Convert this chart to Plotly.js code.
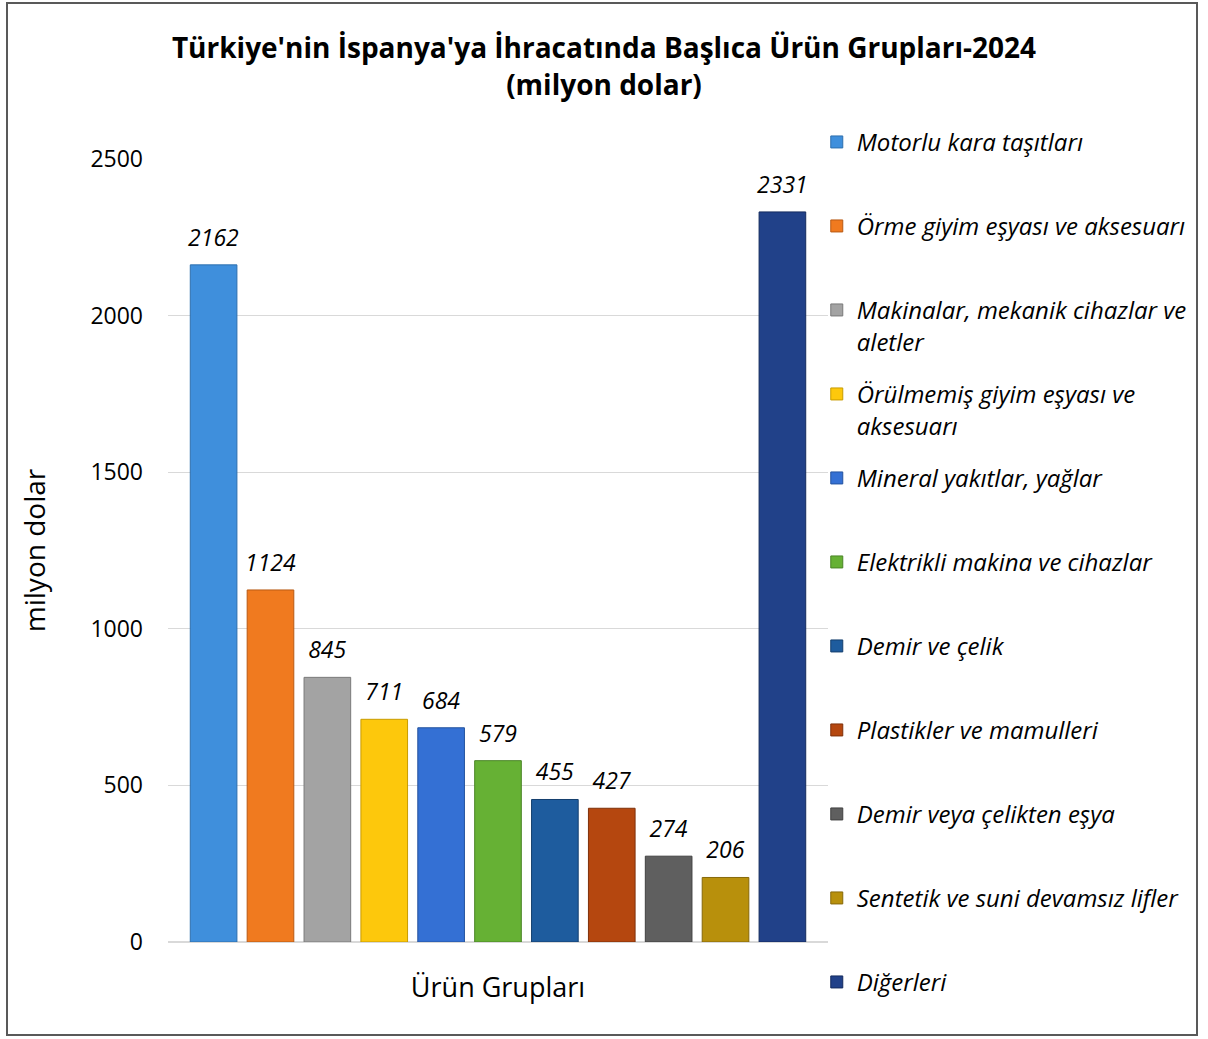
<!DOCTYPE html>
<html>
<head>
<meta charset="utf-8">
<script src="https://cdn.plot.ly/plotly-3.0.1.min.js"></script>
<style>
  html, body { margin: 0; padding: 0; background: #ffffff; }
  #wrap { position: relative; width: 1208px; height: 1039px; }
  #chart { position: absolute; left: 0; top: 0; width: 1208px; height: 1039px; }
  #frame { position: absolute; left: 6px; top: 2px; width: 1192px; height: 1034px;
           border: 2px solid #595959; box-sizing: border-box; pointer-events: none; }
</style>
</head>
<body>
<div id="wrap">
  <div id="chart"></div>
  <div id="frame"></div>
</div>
<script>
const category = ['Ürün Grupları'];
const seriesNames = [
  'Motorlu kara taşıtları',
  'Örme giyim eşyası ve aksesuarı',
  'Makinalar, mekanik cihazlar ve<br>aletler',
  'Örülmemiş giyim eşyası ve<br>aksesuarı',
  'Mineral yakıtlar, yağlar',
  'Elektrikli makina ve cihazlar',
  'Demir ve çelik',
  'Plastikler ve mamulleri',
  'Demir veya çelikten eşya',
  'Sentetik ve suni devamsız lifler',
  'Diğerleri'
];
const seriesValues = [2162, 1124, 845, 711, 684, 579, 455, 427, 274, 206, 2331];
const seriesColors = ['#3f8fdc', '#f07a1f', '#a3a3a3', '#fdc80c', '#3470d4', '#66b134',
                      '#1e5c9e', '#b5470f', '#5f5f5f', '#b8900c', '#214189'];
const seriesEdges  = ['#2e6fae', '#b85a14', '#7a7a7a', '#c89c00', '#24529f', '#4a8526',
                      '#143f6e', '#7f300a', '#404040', '#86680a', '#142b5e'];

const traces = seriesNames.map((name, i) => {
  const oneLine = name.indexOf('<br>') === -1;
  return {
    type: 'bar',
    name: oneLine ? name + '<br>\u00a0' : name,
    legendgroup: 'g' + i,
    x: category,
    y: [seriesValues[i]],
    text: ['<span style="font-size:23px">' + String(seriesValues[i]) + '</span><br>\u00a0'],
    textposition: 'outside',
    constraintext: 'none',
    cliponaxis: false,
    textfont: { family: 'Open Sans, sans-serif', size: 10, color: '#000000', style: 'italic' },
    marker: { color: seriesColors[i], line: { color: seriesEdges[i], width: 1 } },
    hoverinfo: 'skip'
  };
});

const layout = {
  width: 1208, height: 1039,
  paper_bgcolor: '#ffffff', plot_bgcolor: '#ffffff',
  margin: { l: 168, r: 380, t: 159, b: 97, pad: 0 },
  font: { family: 'Open Sans, sans-serif', color: '#000000' },
  title: {
    text: "<b>Türkiye'nin İspanya'ya İhracatında Başlıca Ürün Grupları-2024<br>(milyon dolar)</b>",
    font: { family: 'Open Sans, sans-serif', size: 28, color: '#000000' },
    x: 0.5, xanchor: 'center', xref: 'container',
    y: 0.944, yanchor: 'middle', yref: 'container'
  },
  barmode: 'group',
  bargap: 0.052,
  bargroupgap: 0.18,
  xaxis: {
    showticklabels: false,
    showgrid: false,
    zeroline: false,
    showline: false,
    ticks: '',
    title: { text: 'Ürün Grupları', font: { size: 27, color: '#000000' }, standoff: 36 }
  },
  yaxis: {
    range: [0, 2500],
    tickvals: [0, 500, 1000, 1500, 2000, 2500],
    ticktext: ['0', '500', '1000', '1500', '2000', '2500'],
    tickfont: { size: 23, color: '#000000' },
    showgrid: true,
    gridcolor: '#d9d9d9',
    gridwidth: 1.3,
    zeroline: true,
    zerolinecolor: '#d9d9d9',
    zerolinewidth: 1.3,
    showline: false,
    ticks: '',
    ticklabelstandoff: 24,
    title: { text: 'milyon dolar', font: { size: 28, color: '#000000' }, standoff: 36 }
  },
  showlegend: true,
  legend: {
    x: 0.983, xanchor: 'left',
    y: 1.05, yanchor: 'top',
    font: { family: 'Open Sans, sans-serif', size: 24, color: '#000000', style: 'italic' },
    valign: 'top',
    tracegroupgap: 18.6,
    itemwidth: 30,
    maxheight: 1000,
    bgcolor: 'rgba(0,0,0,0)',
    traceorder: 'grouped'
  }
};

Plotly.newPlot('chart', traces, layout, { displayModeBar: false, staticPlot: true });
</script>
</body>
</html>
